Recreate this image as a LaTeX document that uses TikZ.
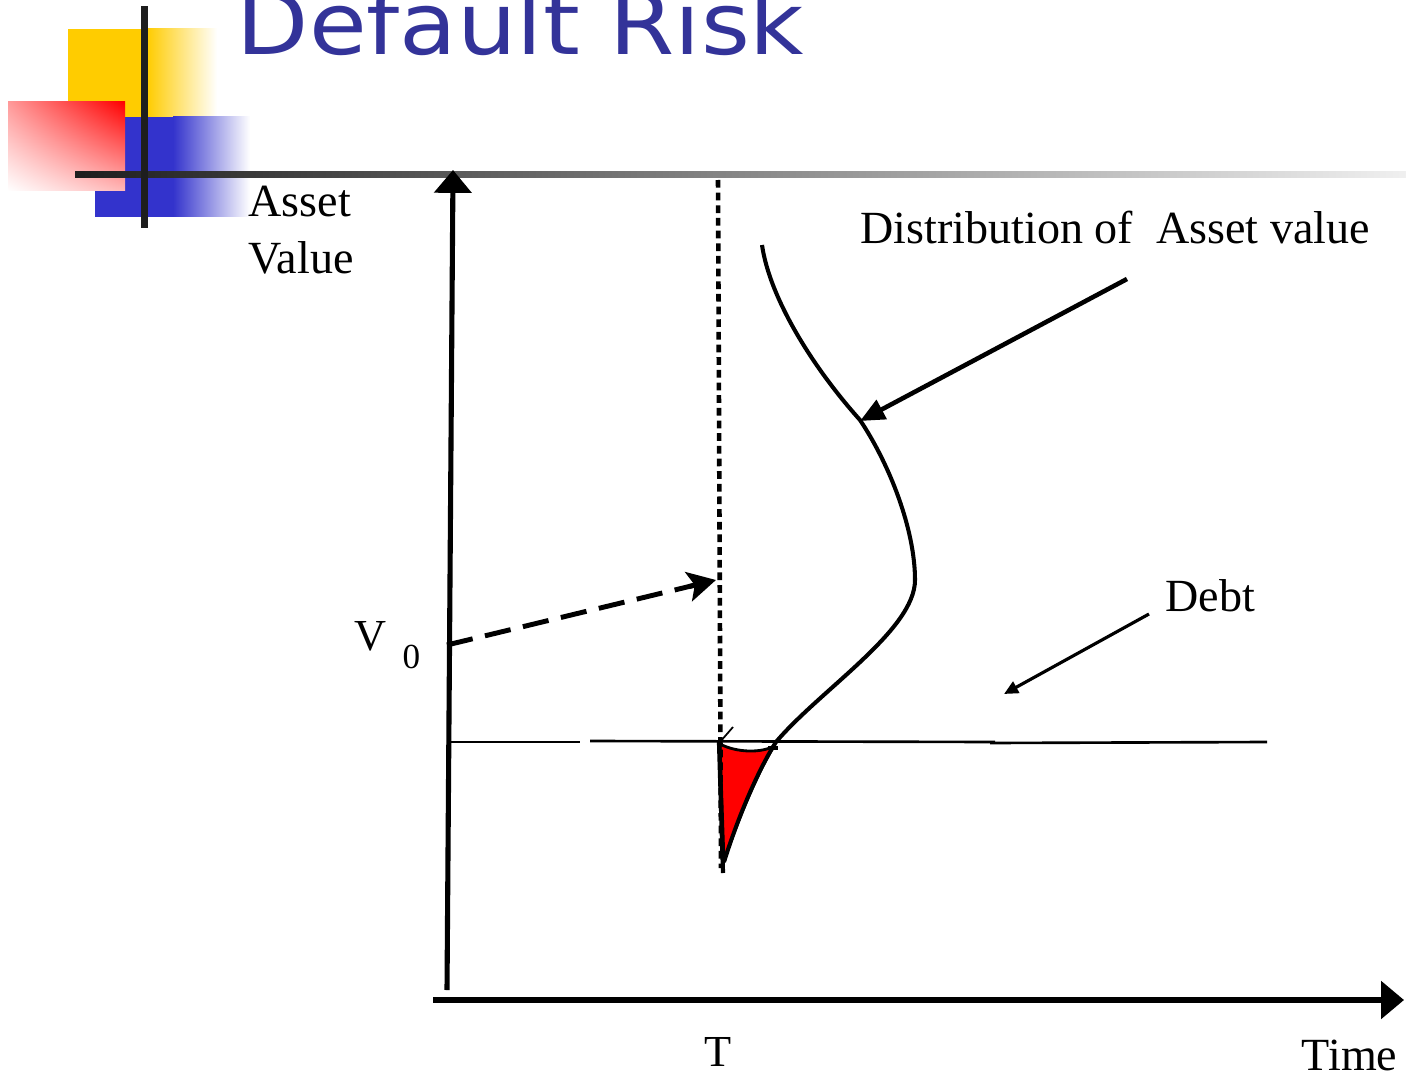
\documentclass[tikz,border=0pt]{standalone}
\usepackage{fontspec}
\setmainfont{Liberation Serif}
\newfontfamily\titlefont{DejaVu Sans}
\usetikzlibrary{arrows.meta,shadings,calc}
\definecolor{titleblue}{HTML}{333399}
\definecolor{ycol}{HTML}{FFCC00}
\definecolor{bcol}{HTML}{3333CC}
\definecolor{barcol}{HTML}{1E1E1E}
\definecolor{pinkA}{HTML}{FF9A9A}
\definecolor{pinkB}{HTML}{FFB8B8}
\begin{document}
\begin{tikzpicture}[x=0.01cm,y=-0.01cm,
  lbl/.style={font=\fontsize{13.1}{15}\selectfont, inner sep=0pt, anchor=base west},
  axisline/.style={line width=1.45pt, -{Triangle[length=6.5pt,width=10.5pt]}},
  bigpointer/.style={line width=1.3pt, -{Triangle[length=7pt,width=6pt]}},
  smallpointer/.style={line width=0.9pt, -{Triangle[length=4pt,width=3.6pt]}},
  dashline/.style={line width=1.4pt, dash pattern=on 7.5pt off 3.6pt},
  dashtip/.style={line width=1.4pt, -{Stealth[length=8pt,width=8.5pt,inset=1.8pt]}},
  dotline/.style={line width=1.3pt, dash pattern=on 2.2pt off 1.4pt},
  debtline/.style={line width=0.75pt},
  curve/.style={line width=1.15pt}
]
\useasboundingbox (0,0) rectangle (1406,1076);
\clip (0,0) rectangle (1406,1076);

% --- decoration at top left
\fill[ycol] (68,29) rectangle (147,117);
\shade[left color=ycol, right color=white] (147,29) rectangle (217,117);
\fill[bcol] (95,117) rectangle (173,217);
\shade[left color=bcol, right color=white] (173,117) rectangle (250,217);
\shade[upper left=pinkA, upper right=red, lower left=white, lower right=pinkB] (8,102) rectangle (125,191);
\shade[left color=barcol, right color=black!6] (75,172) rectangle (1406,178);
\fill[barcol] (141,6) rectangle (148,228);

% --- title
\node[text=titleblue, font=\titlefont\fontsize{24.5}{28}\selectfont, inner sep=0pt, anchor=base west] (title) at (236,55) {\scalebox{1.09}[1]{Default Risk}};

% --- coordinates
\coordinate (yb) at (447,990);
\coordinate (yt) at (453,170);
\coordinate (xl) at (433,1000);
\coordinate (xr) at (1404,1000);
\coordinate (dtop) at (718,180);
\coordinate (dbot) at (721,868);
\coordinate (v0) at (447,645);
\coordinate (v0end) at (716,580);
\coordinate (d1a) at (447,742);
\coordinate (d1b) at (580,742);
\coordinate (d2a) at (590,741);
\coordinate (d2b) at (995,742);
\coordinate (d3a) at (990,743);
\coordinate (d3b) at (1267,742);
\coordinate (distfrom) at (1127,279);
\coordinate (distto) at (860,421);
\coordinate (debtfrom) at (1149,614);
\coordinate (debtto) at (1004,694);

% --- labels
\node[lbl] (asset) at (248,217) {Asset};
\node[lbl] (value) at (248,273) {Value};
\node[lbl] (dist) at (860,243) {Distribution of\ \ Asset value};
\node[lbl] (debt) at (1165,611) {Debt};
\node[lbl, font=\fontsize{12.6}{15}\selectfont] (vlab) at (354,650) {V};
\node[lbl, font=\fontsize{10}{12}\selectfont] (zero) at (402,668) {0};
\node[lbl, font=\fontsize{12.6}{15}\selectfont] (tlab) at (704,1066) {T};
\node[lbl] (time) at (1301,1070) {Time};

% --- debt line
\draw[debtline] (d1a) -- (d1b);
\draw[debtline] (d2a) -- (d2b);
\draw[debtline] (d3a) -- (d3b);

% --- red tail region
\filldraw[fill=red, draw=black, line width=0.8pt, line join=round]
  (720,744) .. controls (737,753) and (762,753) .. (774,746)
  .. controls (757,774) and (737,822) .. (724,862) -- cycle;
\draw[line width=1.2pt] (719,742) -- (723,873);
\draw[line width=0.5pt] (720,742) -- (733,727);
\draw[line width=1.2pt] (768,748) -- (778,748);

% --- vertical dotted line at T
\draw[dotline] (dtop) -- (dbot);

% --- distribution curve
\draw[curve] (762,245) .. controls (770,300) and (815,370) .. (860,420)
  .. controls (890,465) and (915,530) .. (915,580)
  .. controls (915,630) and (820,690) .. (776,742)
  .. controls (757,772) and (737,820) .. (724,862);

% --- axes
\draw[axisline] (yb) -- (yt);
\draw[axisline] (xl) -- (xr);

% --- pointers
\draw[dashline] (v0) -- ($(v0)!0.93!(v0end)$);
\draw[dashtip] ($(v0)!0.9!(v0end)$) -- (v0end);
\draw[bigpointer] (distfrom) -- (distto);
\draw[smallpointer] (debtfrom) -- (debtto);
\end{tikzpicture}
\end{document}
